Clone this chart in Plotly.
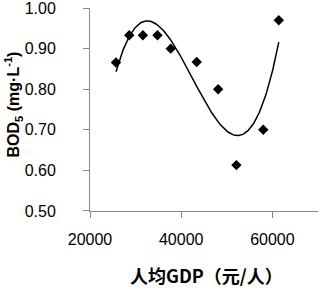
import numpy as np
import plotly.graph_objects as go

# Data
gdp = [25700, 28600, 31600, 34800, 37700, 43400, 48100, 52100, 58000, 61400]
bod5 = [0.866, 0.933, 0.933, 0.933, 0.900, 0.867, 0.800, 0.613, 0.700, 0.970]

x_ticks = [20000, 40000, 60000]
x_tick_labels = ["20000", "40000", "60000"]
y_ticks = [0.50, 0.60, 0.70, 0.80, 0.90, 1.00]
y_tick_labels = ["0.50", "0.60", "0.70", "0.80", "0.90", "1.00"]

# Polynomial (order 3) trendline, as in the original spreadsheet chart
coef = np.polyfit(np.array(gdp) / 1e4, np.array(bod5), 3)
xs = np.linspace(min(gdp), max(gdp), 200)
ys = np.polyval(coef, xs / 1e4)

fig = go.Figure()
fig.add_trace(go.Scatter(x=xs, y=ys, mode="lines",
                         line=dict(color="black", width=1.5), hoverinfo="skip"))
fig.add_trace(go.Scatter(x=gdp, y=bod5, mode="markers",
                         marker=dict(symbol="diamond", size=8, color="black")))

tick_font = dict(family="Liberation Sans, Arial", size=16, color="black")
axis_common = dict(showgrid=False, zeroline=False, showline=True, automargin=False,
                   linecolor="#888888", linewidth=1, ticks="outside",
                   tickcolor="#888888", ticklen=6, tickfont=tick_font,
                   ticklabeloverflow="allow")

fig.update_layout(
    width=321, height=288,
    margin=dict(l=90, r=3, t=8, b=77),
    plot_bgcolor="white", paper_bgcolor="white",
    showlegend=False,
    xaxis=dict(range=[20000, 70000], tickvals=x_ticks, ticktext=x_tick_labels,
               ticklabelstandoff=8, **axis_common),
    yaxis=dict(range=[0.4999, 1.0002], tickvals=y_ticks, ticktext=y_tick_labels,
               ticklabelstandoff=24, **axis_common),
    annotations=[
        dict(text="<b>人均GDP（元/人）</b>", xref="paper", yref="paper",
             x=0.5, y=0, xanchor="center", yanchor="middle", yshift=-64, xshift=2,
             showarrow=False,
             font=dict(family="Noto Sans CJK SC", size=18, color="black")),
        dict(text="<b>BOD<sub>5</sub> (mg·L<sup>-1</sup>)</b>", xref="paper", yref="paper",
             x=0, y=0.5, xanchor="center", yanchor="middle", xshift=-77, yshift=5,
             textangle=-90, showarrow=False,
             font=dict(family="Liberation Sans, Arial", size=16, color="black")),
    ],
)

fig.write_html("out.html", config={"displayModeBar": False},
               post_script="document.body.style.margin='0';")
